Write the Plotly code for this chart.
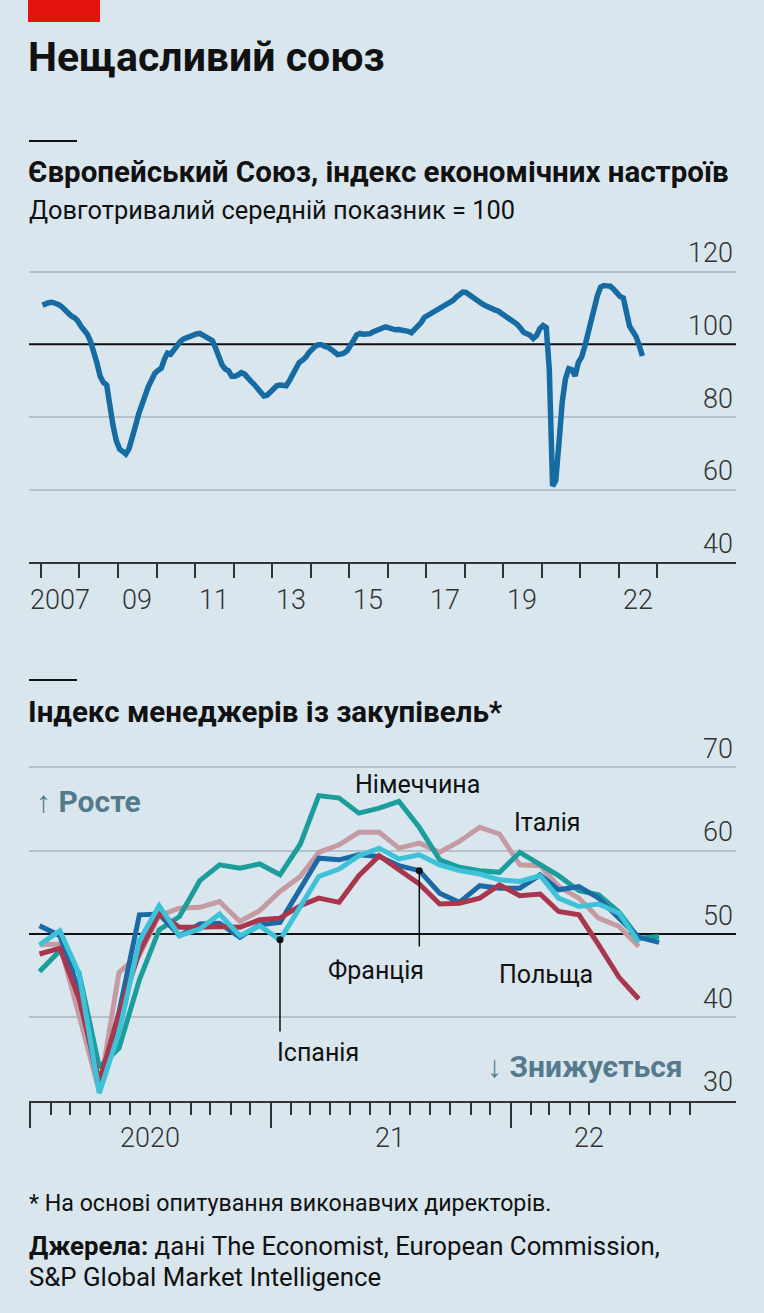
import plotly.graph_objects as go
import pandas as pd

# --- data ---------------------------------------------------------------
# EU economic sentiment indicator, monthly, Jan 2007 - Aug 2022
esi_values = [
    110.8, 111.3, 111.5, 111.6, 111.4, 111.0, 110.4, 109.5, 108.3, 107.8, 107.3, 106.5,  # 2007
    105.0, 103.8, 102.8, 100.8, 98.2, 94.8, 91.2, 89.5, 88.8, 82.8, 77.5, 73.5,  # 2008
    71.2, 70.5, 69.8, 71.3, 75.0, 77.5, 80.8, 83.6, 86.3, 88.4, 90.2, 92.0,  # 2009
    92.8, 93.4, 95.8, 97.6, 97.3, 98.4, 100.0, 100.8, 101.5, 101.9, 102.3, 102.7,  # 2010
    102.9, 103.0, 102.6, 102.1, 101.8, 101.0, 99.0, 96.0, 94.3, 93.2, 92.7, 91.2,  # 2011
    91.2, 91.6, 92.2, 91.8, 90.5, 89.8, 89.0, 87.8, 86.8, 85.8, 86.0, 86.8,  # 2012
    87.8, 88.6, 88.8, 88.5, 88.6, 90.0, 91.7, 93.4, 95.0, 95.6, 96.4, 97.7,  # 2013
    98.8, 99.5, 99.9, 99.9, 99.4, 99.2, 98.6, 98.0, 97.2, 97.3, 97.6, 98.3,  # 2014
    99.5, 101.2, 102.6, 103.0, 102.8, 102.8, 102.9, 103.4, 103.9, 104.2, 104.5, 104.8,  # 2015
    104.5, 104.0, 104.0, 104.1, 104.0, 103.9, 103.6, 103.2, 104.1, 105.2, 106.0, 107.4,  # 2016
    107.9, 108.3, 108.7, 109.2, 109.8, 110.3, 110.8, 111.3, 112.1, 113.0, 113.7, 114.4,  # 2017
    114.3, 113.6, 112.8, 112.2, 111.7, 111.2, 110.7, 110.2, 109.8, 109.5, 109.2, 108.6,  # 2018
    107.8, 107.1, 106.8, 106.2, 105.5, 104.5, 103.3, 102.9, 102.5, 101.6, 102.4, 104.3,  # 2019
    105.2, 104.6, 93.0, 61.0, 62.5, 73.0, 84.0, 90.5, 93.3, 93.0, 91.3, 95.0,  # 2020
    96.5, 99.5, 103.0, 105.5, 109.5, 113.5, 115.8, 116.2, 116.1, 116.0, 115.2, 114.0,  # 2021
    113.2, 112.8, 108.5, 105.0, 103.6, 102.2, 99.8, 96.8,  # 2022
]
esi_ticks = [str(y) for y in range(2007, 2024)]
esi_year_labels = ["2007", "09", "11", "13", "15", "17", "19", "22"]
esi_label_years = [2007, 2009, 2011, 2013, 2015, 2017, 2019, 2022]
esi_yticks = [40, 60, 80, 100, 120]
esi_grid = [60, 80, 120]

# Manufacturing PMI, monthly from Jan 2020
pmi_names = ["Італія", "Німеччина", "Франція", "Польща", "Іспанія"]
pmi_italy = [48.7, 48.8, 40.3, 31.1, 45.4, 47.5, 52.2, 53.1, 53.2, 53.9, 51.5, 52.8,
             55.1, 56.9, 59.8, 60.7, 62.2, 62.2, 60.3, 60.9, 59.8, 61.1, 62.8, 62.0,
             58.3, 58.2, 55.7, 54.3, 51.9, 50.9, 48.5]
pmi_germany = [45.5, 48.0, 45.4, 34.0, 36.3, 44.5, 50.5, 52.1, 56.4, 58.3, 57.9, 58.4,
               57.1, 60.8, 66.6, 66.3, 64.5, 65.1, 65.9, 62.8, 58.9, 58.0, 57.6, 57.4,
               59.8, 58.4, 57.0, 55.2, 54.7, 52.6, 49.5, 49.7]
pmi_france = [51.0, 49.8, 43.2, 31.5, 40.6, 52.3, 52.4, 49.8, 51.2, 51.3, 49.6, 51.1,
              51.4, 55.6, 59.1, 58.9, 59.5, 59.3, 58.2, 57.6, 54.9, 53.8, 55.8, 55.5,
              55.5, 57.1, 55.3, 55.7, 54.3, 51.9, 49.6, 49.0]
pmi_poland = [47.6, 48.3, 42.3, 32.3, 40.5, 47.8, 52.5, 50.8, 50.8, 50.9, 50.8, 51.7,
              51.9, 53.4, 54.3, 53.8, 57.0, 59.4, 57.7, 56.0, 53.6, 53.7, 54.3, 55.9,
              54.6, 54.8, 52.7, 52.3, 48.7, 44.8, 42.2]
pmi_spain = [48.7, 50.4, 45.3, 30.9, 38.2, 49.2, 53.4, 49.8, 50.6, 52.4, 49.8, 51.0,
             49.3, 53.2, 56.9, 57.8, 59.4, 60.3, 59.0, 59.5, 58.3, 57.6, 57.2, 56.5,
             56.3, 57.0, 54.3, 53.3, 53.6, 52.5, 49.0]
pmi_series = [pmi_italy, pmi_germany, pmi_france, pmi_poland, pmi_spain]
pmi_colors = ["#c49aa3", "#1b9e9b", "#1b6aa5", "#a8364d", "#3ec2d8"]
pmi_year_labels = ["2020", "21", "22"]
pmi_label_dates = ["2020-07-01", "2021-07-01", "2022-05-01"]
pmi_yticks = [30, 40, 50, 60, 70]
pmi_grid = [40, 60, 70]

BG = "#d9e6ee"
FONT = "Roboto"
W, H = 764, 1313


def px(y):
    # pixel row -> paper fraction
    return 1 - y / H


def dx(x):
    return x / W


esi_dates = pd.date_range("2007-01-01", periods=len(esi_values), freq="MS") + pd.Timedelta(days=14)
pmi_dates = pd.date_range("2020-01-01", periods=32, freq="MS") + pd.Timedelta(days=14)

fig = go.Figure()

fig.add_trace(go.Scatter(x=esi_dates, y=esi_values, mode="lines",
                         line=dict(color="#176ba3", width=5.5),
                         xaxis="x", yaxis="y", showlegend=False, hoverinfo="skip"))

for name, vals, col in zip(pmi_names, pmi_series, pmi_colors):
    fig.add_trace(go.Scatter(x=pmi_dates[:len(vals)], y=vals, mode="lines", name=name,
                             line=dict(color=col, width=5),
                             xaxis="x2", yaxis="y2", showlegend=False, hoverinfo="skip"))

# pointer dots for France (Aug 2021) and Spain (Jan 2021)
fig.add_trace(go.Scatter(x=[pmi_dates[19], pmi_dates[12]], y=[pmi_france[19], pmi_spain[12]],
                         mode="markers", marker=dict(color="#111", size=7),
                         xaxis="x2", yaxis="y2", showlegend=False, hoverinfo="skip"))

xdom = [dx(29), dx(736)]
grid = "#b3c2cb"
tickfont = dict(family=FONT, size=27, color="#333333", weight=300)

# y ranges stretched above the top gridline so the top label has room
top_range = [40, 132]
top_ppu = (562.3 - 271.7) / 80
bot_range = [30, 75]
bot_ppu = (1100.7 - 767.3) / 40

fig.update_layout(
    width=W, height=H,
    margin=dict(l=0, r=0, t=0, b=0),
    paper_bgcolor=BG, plot_bgcolor=BG,
    font=dict(family=FONT, color="#111"),
    xaxis=dict(domain=xdom, anchor="y", type="date",
               range=["2006-09-09", "2025-01-19"],
               tickmode="array", tickvals=esi_ticks, showticklabels=False,
               ticks="outside", ticklen=14, tickwidth=2, tickcolor="#333",
               showline=True, linecolor="#333", linewidth=2,
               showgrid=False, zeroline=False),
    yaxis=dict(domain=[px(562.3), px(562.3 - (top_range[1] - 40) * top_ppu)], anchor="x",
               range=top_range, side="right", tickvals=esi_yticks,
               ticklabelposition="inside top",
               tickfont=tickfont, ticks="", showgrid=False,
               minor=dict(tickvals=esi_grid, ticks="", showgrid=True,
                          gridcolor=grid, gridwidth=2),
               zeroline=False, showline=False),
    xaxis2=dict(domain=xdom, anchor="y2", type="date",
                range=["2019-12-30", "2022-12-10"],
                tickmode="array", tickvals=["2020-01-01", "2021-01-01", "2022-01-01"],
                showticklabels=False,
                ticks="outside", ticklen=25, tickwidth=2, tickcolor="#333",
                minor=dict(dtick="M1", tick0="2020-01-01", ticks="outside", ticklen=12,
                           tickwidth=2, tickcolor="#333", showgrid=False),
                showline=True, linecolor="#333", linewidth=2,
                showgrid=False, zeroline=False),
    yaxis2=dict(domain=[px(1100.7), px(1100.7 - (bot_range[1] - 30) * bot_ppu)], anchor="x2",
                range=bot_range, side="right", tickvals=pmi_yticks,
                ticklabelposition="inside top",
                tickfont=tickfont, ticks="", showgrid=False,
                minor=dict(tickvals=pmi_grid, ticks="", showgrid=True,
                           gridcolor=grid, gridwidth=2),
                zeroline=False, showline=False),
)

shapes = [
    dict(type="rect", xref="paper", yref="paper", x0=dx(28), x1=dx(100), y0=px(22), y1=1,
         fillcolor="#e3120b", line=dict(width=0)),
    dict(type="line", xref="paper", yref="paper", x0=dx(29), x1=dx(77), y0=px(141), y1=px(141),
         line=dict(color="#111", width=2)),
    dict(type="line", xref="paper", yref="paper", x0=dx(29), x1=dx(77), y0=px(680), y1=px(680),
         line=dict(color="#111", width=2)),
    # reference lines at 100 and 50
    dict(type="line", xref="x domain", yref="y", x0=0, x1=1, y0=100, y1=100,
         line=dict(color="#111", width=2), layer="below"),
    dict(type="line", xref="x2 domain", yref="y2", x0=0, x1=1, y0=50, y1=50,
         line=dict(color="#111", width=2), layer="below"),
    # pointers
    dict(type="line", xref="x2", yref="y2", x0=pmi_dates[19], x1=pmi_dates[19],
         y0=pmi_france[19], y1=48.5, line=dict(color="#111", width=1.5)),
    dict(type="line", xref="x2", yref="y2", x0=pmi_dates[12], x1=pmi_dates[12],
         y0=pmi_spain[12], y1=38.3, line=dict(color="#111", width=1.5)),
]
fig.update_layout(shapes=shapes)


def note(text, x, y, size, xref="paper", yref="paper", xanchor="left", color="#111", weight=400):
    return dict(text=text, x=x, y=y, xref=xref, yref=yref, xanchor=xanchor, yanchor="middle",
                showarrow=False, font=dict(family=FONT, size=size, color=color, weight=weight))


label_font = 25
annotations = [
    note("Нещасливий союз", dx(26), px(57), 41, weight=700),
    note("Європейський Союз, індекс економічних настроїв", dx(26), px(172), 29.5, weight=700),
    note("Довготривалий середній показник = 100", dx(27), px(210), 25.4),
    note("Індекс менеджерів із закупівель*", dx(26), px(712), 29.5, weight=700),
    note("* На основі опитування виконавчих директорів.", dx(27), px(1203), 23.2),
    note("<b>Джерела:</b> дані The Economist, European Commission,", dx(27), px(1246), 25.8),
    note("S&P Global Market Intelligence", dx(27), px(1277), 25.8),
    note("Німеччина", "2021-08-13", 67.9, label_font, "x2", "y2", "center"),
    note("Італія", "2022-02-26", 63.4, label_font, "x2", "y2", "center"),
    note("Франція", "2021-06-10", 45.6, label_font, "x2", "y2", "center"),
    note("Польща", "2022-02-24", 45.1, label_font, "x2", "y2", "center"),
    note("Іспанія", "2021-03-14", 35.8, label_font, "x2", "y2", "center"),
    note("↑ Росте", "2020-01-07", 65.9, 30, "x2", "y2", "left", "#557a8b", 700),
    note("↓ Знижується", "2022-09-23", 34.1, 30, "x2", "y2", "right", "#557a8b", 700),
]
# year labels centred on their year spans, below each x axis
for lab, yr in zip(esi_year_labels, esi_label_years):
    annotations.append(dict(text=lab, x=f"{yr}-07-01", y=px(600), xref="x", yref="paper",
                            xanchor="center", yanchor="middle", showarrow=False, font=tickfont))
for lab, d in zip(pmi_year_labels, pmi_label_dates):
    annotations.append(dict(text=lab, x=d, y=px(1138), xref="x2", yref="paper",
                            xanchor="center", yanchor="middle", showarrow=False, font=tickfont))
fig.update_layout(annotations=annotations)

fig.write_html("out.html", config={"displayModeBar": False},
               post_script="document.body.style.margin='0px';")
